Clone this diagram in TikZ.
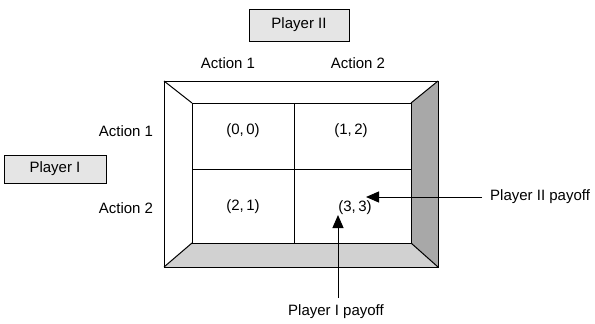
\documentclass[tikz,border=0pt]{standalone}
\usepackage{fontspec}
\setmainfont{Liberation Sans}
\usetikzlibrary{arrows.meta}
\definecolor{boxgray}{gray}{0.9}
\definecolor{sidegray}{gray}{0.66}
\definecolor{basegray}{gray}{0.82}
\tikzset{
  lbl/.style={font=\fontsize{15}{17}\selectfont, inner sep=0pt},
  playerbox/.style={draw, fill=boxgray, line width=1pt, inner sep=0pt,
    font=\fontsize{15}{17}\selectfont},
  frame/.style={line width=1pt, line join=miter},
  ptr/.style={line width=1pt, -{Triangle[length=13pt,width=11pt]}}
}
\begin{document}
\begin{tikzpicture}[x=1pt,y=-1pt]
\useasboundingbox (0,0) rectangle (595,324);
% outer and inner corners of the bevelled frame
\coordinate (o1) at (164,81);  \coordinate (o2) at (438,81);
\coordinate (o3) at (438,267); \coordinate (o4) at (164,267);
\coordinate (i1) at (192,103); \coordinate (i2) at (411,103);
\coordinate (i3) at (411,243); \coordinate (i4) at (192,243);
% shaded bevels
\fill[sidegray] (o2) -- (o3) -- (i3) -- (i2) -- cycle;
\fill[basegray] (o4) -- (o3) -- (i3) -- (i4) -- cycle;
\draw[frame] (o1) -- (o2) -- (o3) -- (o4) -- cycle;
\draw[frame] (i1) -- (i2) -- (i3) -- (i4) -- cycle;
\draw[frame] (o1) -- (i1) (o2) -- (i2) (o3) -- (i3) (o4) -- (i4);
% grid lines of the matrix
\coordinate (mt) at (294,103); \coordinate (mb) at (294,243);
\coordinate (ml) at (192,169); \coordinate (mr) at (411,169);
\draw[frame] (mt) -- (mb) (ml) -- (mr);
% players
\node[playerbox, minimum width=100pt, minimum height=32pt] (p2) at (299,25) {Player II};
\node[playerbox, minimum width=102pt, minimum height=28pt] (p1) at (55,169) {Player I};
% action labels
\node[lbl] (c1) at (228,63) {Action 1};
\node[lbl] (c2) at (358,63) {Action 2};
\node[lbl] (r1) at (126,131) {Action 1};
\node[lbl] (r2) at (126,208) {Action 2};
% payoffs
\node[lbl] (a) at (243,131) {(0,\,0)};
\node[lbl] (b) at (351,131) {(1,\,2)};
\node[lbl] (c) at (243,207) {(2,\,1)};
\node[lbl, inner sep=2pt] (d) at (355,208) {(3,\,3)};
% pointers
\node[lbl, anchor=west] (l2) at (490,197) {Player II payoff};
\node[lbl] (l1) at (336,312) {Player I payoff};
\coordinate (t2) at (482,197);
\coordinate (t1) at (338,298);
\draw[ptr] (t2) -- (366,197);
\draw[ptr] (t1) -- (338,215);
\end{tikzpicture}
\end{document}
